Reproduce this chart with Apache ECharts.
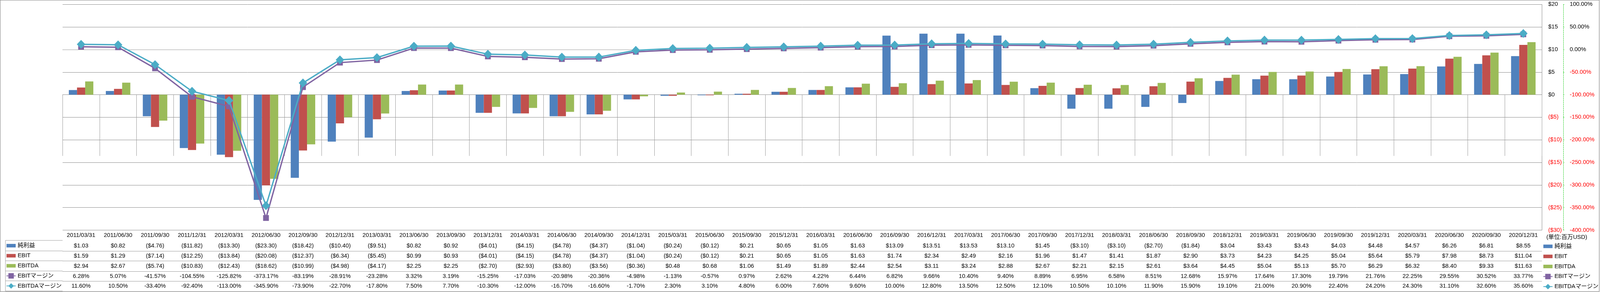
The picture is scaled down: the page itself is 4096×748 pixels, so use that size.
<!DOCTYPE html>
<html><head><meta charset="utf-8">
<script src="https://cdn.jsdelivr.net/npm/echarts@6/dist/echarts.min.js"></script>
<style>html,body{margin:0;padding:0;background:#fff;overflow:hidden}#c{width:4096px;height:748px}</style>
</head><body><div id="c"></div>
<script>
// ---------------- data ----------------
const categories = ['2011/03/31','2011/06/30','2011/09/30','2011/12/31','2012/03/31','2012/06/30','2012/09/30','2012/12/31','2013/03/31','2013/06/30','2013/09/30','2013/12/31','2014/03/31','2014/06/30','2014/09/30','2014/12/31','2015/03/31','2015/06/30','2015/09/30','2015/12/31','2016/03/31','2016/06/30','2016/09/30','2016/12/31','2017/03/31','2017/06/30','2017/09/30','2017/12/31','2018/03/31','2018/06/30','2018/09/30','2018/12/31','2019/03/31','2019/06/30','2019/09/30','2019/12/31','2020/03/31','2020/06/30','2020/09/30','2020/12/31'];
const netIncome = [1.03,0.82,-4.76,-11.82,-13.30,-23.30,-18.42,-10.40,-9.51,0.82,0.92,-4.01,-4.15,-4.78,-4.37,-1.04,-0.24,-0.12,0.21,0.65,1.05,1.63,13.09,13.51,13.53,13.10,1.45,-3.10,-3.10,-2.70,-1.84,3.04,3.43,3.43,4.03,4.48,4.57,6.26,6.81,8.55];
const ebit = [1.59,1.29,-7.14,-12.25,-13.84,-20.08,-12.37,-6.34,-5.45,0.99,0.93,-4.01,-4.15,-4.78,-4.37,-1.04,-0.24,-0.12,0.21,0.65,1.05,1.63,1.74,2.34,2.49,2.16,1.96,1.47,1.41,1.87,2.90,3.73,4.23,4.25,5.04,5.64,5.79,7.98,8.73,11.04];
const ebitda = [2.94,2.67,-5.74,-10.83,-12.43,-18.62,-10.99,-4.98,-4.17,2.25,2.25,-2.70,-2.93,-3.80,-3.56,-0.36,0.48,0.68,1.06,1.49,1.89,2.44,2.54,3.11,3.24,2.88,2.67,2.21,2.15,2.61,3.64,4.45,5.04,5.13,5.70,6.29,6.32,8.40,9.33,11.63];
const ebitMargin = [6.28,5.07,-41.57,-104.55,-125.82,-373.17,-83.19,-28.91,-23.28,3.32,3.19,-15.25,-17.03,-20.98,-20.36,-4.98,-1.13,-0.57,0.97,2.62,4.22,6.44,6.82,9.66,10.40,9.40,8.89,6.95,6.58,8.51,12.68,15.97,17.64,17.30,19.79,21.76,22.25,29.55,30.52,33.77];
const ebitdaMargin = [11.60,10.50,-33.40,-92.40,-113.00,-345.90,-73.90,-22.70,-17.80,7.50,7.70,-10.30,-12.00,-16.70,-16.60,-1.70,2.30,3.10,4.80,6.00,7.60,9.60,10.00,12.80,13.50,12.50,12.10,10.50,10.10,11.90,15.90,19.10,21.00,20.90,22.40,24.20,24.30,31.10,32.60,35.60];
const seriesNames = ['純利益','EBIT','EBITDA','EBITマージン','EBITDAマージン'];
const dollarAxis = {min:-30, max:20, interval:5};
const pctAxis = {min:-400, max:100, interval:50};
const unitLabel = '(単位:百万USD)';

// ---------------- layout / style ----------------
const S = 0.871;
const FONT = '"Liberation Sans", Arial, "Noto Sans CJK JP", sans-serif';
const FS = 17*S;
const GRIDC = '#898989', TBL = '#9a9a9a', FRAME = '#868686';
const COLORS = ['#4F81BD','#C0504D','#9BBB59','#8064A2','#4BACC6'];
const tableTop = 676;
const rowLines = [707,738,767,797,826,856];

const fmtD = v => v < 0 ? '($' + (-v).toFixed(2) + ')' : '$' + v.toFixed(2);
const fmtP = v => v.toFixed(2) + '%';
const fmtAxisD = v => v < 0 ? '($' + (-v) + ')' : '$' + v;
const negRed = v => Number(v) < 0 ? '#ff0000' : '#000000';

const rowData = [netIncome.map(fmtD), ebit.map(fmtD), ebitda.map(fmtD), ebitMargin.map(fmtP), ebitdaMargin.map(fmtP)];

const labelBase = {interval:0, verticalAlign:'middle', fontSize:FS, fontFamily:FONT, color:'#000'};

const xAxes = [{
  type:'category', data:categories, position:'bottom',
  axisLine:{show:true, lineStyle:{color:GRIDC, width:1}},
  axisTick:{show:true, interval:0, alignWithLabel:false, length:(rowLines[5]-tableTop)*S, lineStyle:{color:TBL, width:1}},
  axisLabel:Object.assign({}, labelBase, {margin:(rowLines[0]-tableTop)/2*S}),
  splitLine:{show:false}
}];
rowData.forEach((d,i) => {
  xAxes.push({
    type:'category', data:d, position:'bottom', offset:(rowLines[i]-tableTop)*S,
    axisLine:{show:true, lineStyle:{color:TBL, width:1}},
    axisTick:{show:false},
    axisLabel:Object.assign({}, labelBase, {margin:(rowLines[i+1]-rowLines[i])/2*S}),
    splitLine:{show:false}
  });
});
xAxes.push({
  type:'category', data:categories, position:'bottom', offset:(rowLines[5]-tableTop)*S,
  axisLine:{show:true, lineStyle:{color:TBL, width:1}},
  axisTick:{show:false}, axisLabel:{show:false}, splitLine:{show:false}
});

const legendData = seriesNames.map((n,i) => i < 3 ? {name:n, icon:'path://M0 0H26V10H0Z'} : {name:n});
const legendBase = {
  orient:'vertical', padding:0, itemGap:9.6*S, itemWidth:27*S, itemHeight:20*S,
  textStyle:{fontSize:FS, fontFamily:FONT, color:'#000', lineHeight:20*S},
  selectedMode:false, data:legendData
};

const graphics = [
  {type:'rect', silent:true, shape:{x:0.5, y:0.5, width:4701*S-1, height:858*S-1}, style:{fill:null, stroke:FRAME, lineWidth:1.2}},
  {type:'line', silent:true, shape:{x1:16*S, y1:rowLines[0]*S, x2:16*S, y2:rowLines[5]*S}, style:{stroke:TBL, lineWidth:1}}
];
rowLines.forEach(y => graphics.push({type:'line', silent:true, shape:{x1:16*S, y1:y*S, x2:184*S, y2:y*S}, style:{stroke:TBL, lineWidth:1}}));

const chart = echarts.init(document.getElementById('c'), null, {renderer:'canvas'});
chart.setOption({
  animation:false,
  backgroundColor:'#ffffff',
  textStyle:{fontFamily:FONT},
  grid:{left:184*S, right:(4701-4530)*S, top:13*S, bottom:(858-tableTop)*S, containLabel:false, outerBoundsMode:'none'},
  title:{text:unitLabel, left:4545*S, top:690*S, padding:0, textStyle:{fontSize:FS, fontWeight:'normal', fontFamily:FONT, color:'#000'}},
  legend:[
    Object.assign({}, legendBase, {left:18*S, top:712.5*S}),
    Object.assign({}, legendBase, {left:4535*S, top:714.5*S})
  ],
  xAxis:xAxes,
  yAxis:[{
    type:'value', position:'right', min:dollarAxis.min, max:dollarAxis.max, interval:dollarAxis.interval,
    axisLine:{show:true, lineStyle:{color:GRIDC, width:1}},
    axisTick:{show:false},
    splitLine:{show:true, lineStyle:{color:GRIDC, width:1}},
    axisLabel:{margin:19*S, formatter:fmtAxisD, color:negRed, fontSize:FS, fontFamily:FONT}
  },{
    type:'value', position:'right', offset:63*S, min:pctAxis.min, max:pctAxis.max, interval:pctAxis.interval,
    axisLine:{show:true, lineStyle:{color:'#22cc22', width:1, type:[3,2]}},
    axisTick:{show:true, length:3*S, lineStyle:{color:'#22cc22', width:1}},
    splitLine:{show:false},
    axisLabel:{margin:19*S, formatter:v => Number(v).toFixed(2)+'%', color:negRed, fontSize:FS, fontFamily:FONT}
  }],
  series:[
    {name:seriesNames[0], type:'bar', data:netIncome, barWidth:24*S, barGap:'0%', itemStyle:{color:COLORS[0]}},
    {name:seriesNames[1], type:'bar', data:ebit, barWidth:24*S, barGap:'0%', itemStyle:{color:COLORS[1]}},
    {name:seriesNames[2], type:'bar', data:ebitda, barWidth:24*S, barGap:'0%', itemStyle:{color:COLORS[2]}},
    {name:seriesNames[3], type:'line', yAxisIndex:1, data:ebitMargin, symbol:'rect', symbolSize:17*S, showAllSymbol:true,
      lineStyle:{width:4*S, color:COLORS[3]}, itemStyle:{color:COLORS[3]}, z:3},
    {name:seriesNames[4], type:'line', yAxisIndex:1, data:ebitdaMargin, symbol:'diamond', symbolSize:[25*S,26*S], showAllSymbol:true,
      lineStyle:{width:4*S, color:COLORS[4]}, itemStyle:{color:COLORS[4]}, z:4}
  ],
  graphic:graphics
});
</script>
</body></html>
